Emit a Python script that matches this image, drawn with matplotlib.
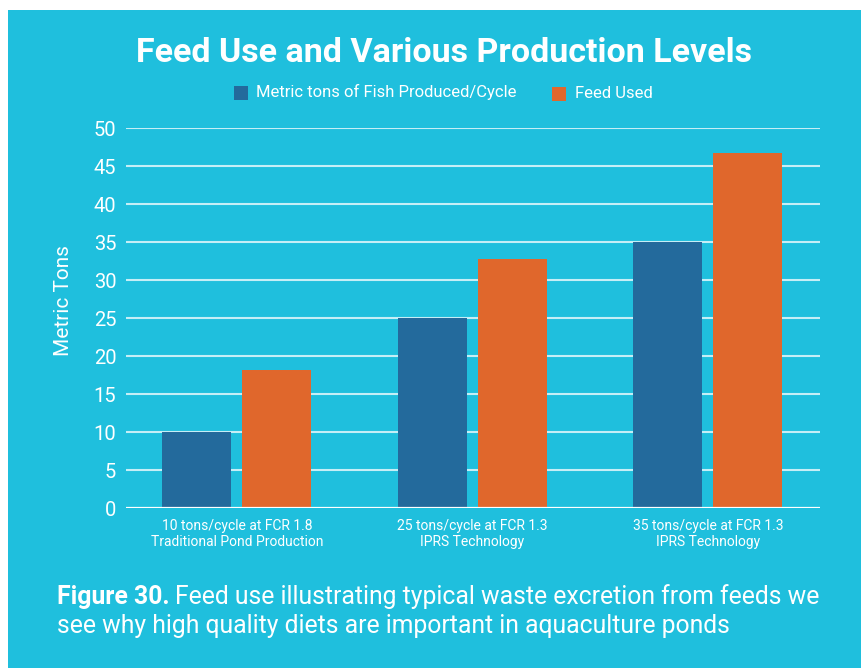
import numpy as np
import matplotlib
matplotlib.use("Agg")
import matplotlib.pyplot as plt
from matplotlib.patches import Rectangle

# data
groups = ["10 tons/cycle at FCR 1.8\nTraditional Pond Production",
          "25 tons/cycle at FCR 1.3\nIPRS Technology",
          "35 tons/cycle at FCR 1.3\nIPRS Technology"]
fish = [10, 25, 35]
feed = [18.2, 32.8, 46.7]
series_names = ["Metric tons of Fish Produced/Cycle", "Feed Used"]
yticks = [0, 5, 10, 15, 20, 25, 30, 35, 40, 45, 50]

bg = "#1fbfdd"
c_blue = "#236a9c"
c_orange = "#e0672c"
grid_c = "#c5eef6"

plt.rcParams['font.family'] = ['Roboto', 'DejaVu Sans']

W, H = 861, 668
fig = plt.figure(figsize=(W / 100, H / 100), dpi=100)
fig.patch.set_facecolor("white")
# cyan panel
fig.patches.append(Rectangle((8 / W, 0), 1, 1 - 10 / H, transform=fig.transFigure,
                             facecolor=bg, edgecolor="none", zorder=-1))

ax = fig.add_axes([126 / W, 1 - 508 / H, (820 - 126) / W, (508 - 128) / H])
ax.set_facecolor("none")

x = np.arange(len(groups))
w = 0.293
off = 0.17
ax.bar(x - off, fish, w, color=c_blue, zorder=3)
ax.bar(x + off, feed, w, color=c_orange, zorder=3)

ax.set_xlim(-0.471, 2.476)
ax.set_ylim(0, 50)
ax.set_yticks(yticks)
ax.set_yticklabels([str(t) for t in yticks], fontsize=14.5, color="white")
for t in yticks[1:]:
    ax.axhline(t, color=grid_c, lw=1.5, zorder=1)
ax.axhline(0, color="white", lw=1.6, zorder=4)
ax.set_xticks(x)
ax.set_xticklabels(groups, fontsize=10, color="white", linespacing=1.2)
ax.tick_params(axis="both", length=0)
ax.tick_params(axis="y", pad=7)
ax.tick_params(axis="x", pad=8)
for s in ax.spines.values():
    s.set_visible(False)
ax.set_ylabel("Metric Tons", fontsize=15, color="white")
ax.yaxis.set_label_coords(-0.077, 0.545)

# title
fig.text(444 / W, 1 - 53 / H, "Feed Use and Various Production Levels", ha="center", va="center",
         fontsize=24.5, fontweight="bold", color="white")

# legend
fig.patches.append(Rectangle((234 / W, 1 - 100 / H), 14 / W, 14 / H, transform=fig.transFigure,
                             facecolor=c_blue, edgecolor="none"))
fig.text(256 / W, 1 - 92 / H, series_names[0], ha="left", va="center", fontsize=12, color="white")
fig.patches.append(Rectangle((552 / W, 1 - 101 / H), 14 / W, 14 / H, transform=fig.transFigure,
                             facecolor=c_orange, edgecolor="none"))
fig.text(575 / W, 1 - 94 / H, series_names[1], ha="left", va="center", fontsize=12, color="white")

# caption
r = fig.canvas.get_renderer()
t1 = fig.text(57 / W, 1 - 597 / H, "Figure 30.", ha="left", va="center", fontsize=17.8,
              fontweight="bold", color="white")
bb = t1.get_window_extent(renderer=r)
fig.text((bb.x1 + 5) / W, 1 - 597 / H, "Feed use illustrating typical waste excretion from feeds we",
         ha="left", va="center", fontsize=17.8, color="white")
fig.text(57 / W, 1 - 626 / H, "see why high quality diets are important in aquaculture ponds",
         ha="left", va="center", fontsize=17.8, color="white")

fig.savefig("out.png", dpi=100, facecolor=fig.get_facecolor())
